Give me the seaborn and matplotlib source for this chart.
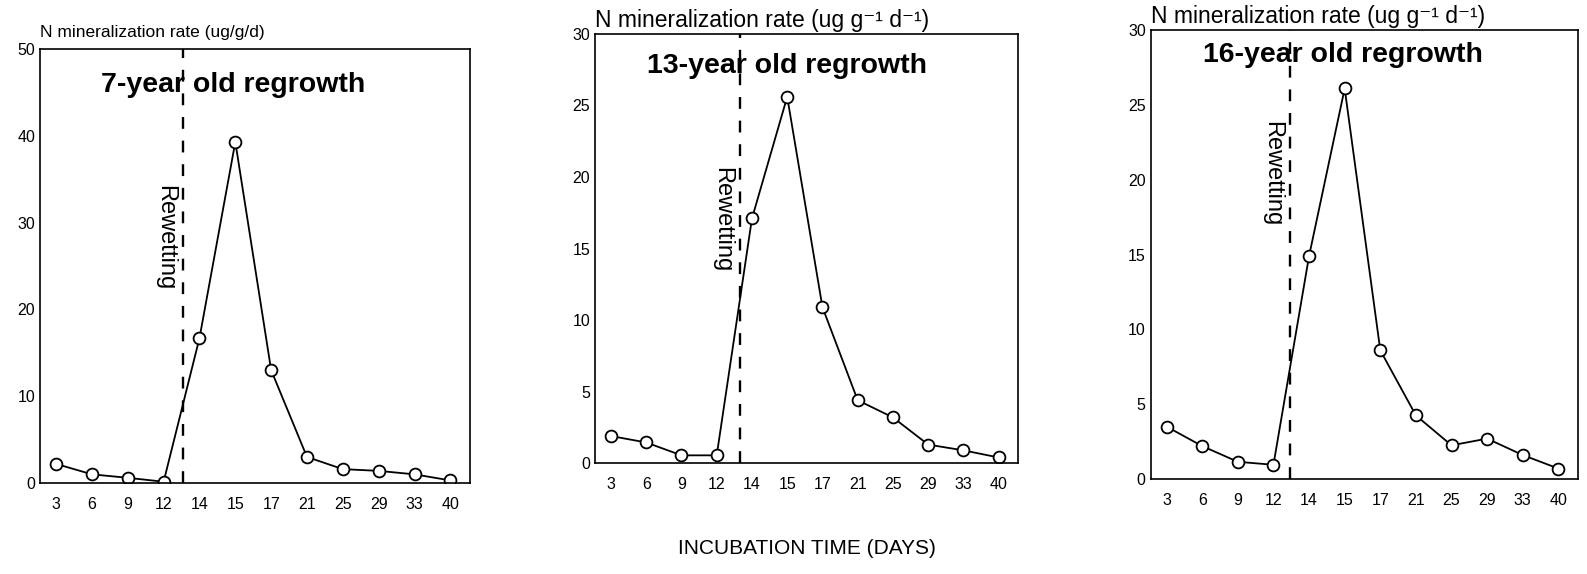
import matplotlib
matplotlib.use("Agg")
import matplotlib.pyplot as plt
import seaborn as sns

days = ["3", "6", "9", "12", "14", "15", "17", "21", "25", "29", "33", "40"]
rate_7yr = [2.2, 1.0, 0.6, 0.15, 16.7, 39.3, 13.0, 3.0, 1.6, 1.4, 1.0, 0.3]
rate_13yr = [1.9, 1.45, 0.55, 0.55, 17.1, 25.6, 10.9, 4.4, 3.2, 1.3, 0.9, 0.4]
rate_16yr = [3.5, 2.2, 1.15, 0.95, 14.9, 26.1, 8.6, 4.25, 2.25, 2.7, 1.6, 0.7]
titles = ["7-year old regrowth", "13-year old regrowth", "16-year old regrowth"]
ylims = [50, 30, 30]
yticks = [[0, 10, 20, 30, 40, 50], [0, 5, 10, 15, 20, 25, 30], [0, 5, 10, 15, 20, 25, 30]]
ylabels = ["N mineralization rate (ug/g/d)",
           "N mineralization rate (ug g\u207b\u00b9 d\u207b\u00b9)",
           "N mineralization rate (ug g\u207b\u00b9 d\u207b\u00b9)"]
rewet_pos = [3.55, 3.65, 3.47]
rewet_text_y = [28.3, 17.0, 20.4]
title_pos = [(0.45, 0.917), (0.453, 0.926), (0.45, 0.944)]

sns.set_style("white")
plt.rcParams['font.family'] = ['Liberation Sans', 'DejaVu Sans']
plt.rcParams['text.color'] = 'black'

fig = plt.figure(figsize=(15.87, 5.74), dpi=100)
rects = [(0.0252, 0.1585, 0.271, 0.756),
         (0.375, 0.193, 0.2665, 0.748),
         (0.725, 0.1655, 0.2693, 0.782)]
series = [rate_7yr, rate_13yr, rate_16yr]

for i in range(3):
    ax = fig.add_axes(rects[i])
    sns.lineplot(x=days, y=series[i], ax=ax, color="black", linewidth=1.3,
                 marker="o", markersize=8.5, markerfacecolor="white",
                 markeredgecolor="black", markeredgewidth=1.3, sort=False)
    ax.set_xlim(-0.45, 11.55)
    ax.set_ylim(0, ylims[i])
    ax.set_yticks(yticks[i])
    ax.tick_params(direction="in", length=4, width=1, labelsize=11.5,
                   colors="black", labelcolor="black")
    ax.tick_params(axis="x", pad=10)
    for s in ax.spines.values():
        s.set_color("black")
        s.set_linewidth(1.2)
    ax.axvline(rewet_pos[i], color="black", linestyle=(0, (5, 5)), linewidth=1.7)
    ax.text(rewet_pos[i] - 0.5, rewet_text_y[i], "Rewetting", rotation=-90,
            ha="center", va="center", fontsize=17, color="black")
    ax.text(title_pos[i][0], title_pos[i][1], titles[i], transform=ax.transAxes,
            ha="center", va="center", fontsize=20.5, fontweight="bold",
            color="black")
    ax.set_xlabel("")
    ax.set_ylabel("")
    if i == 0:
        ax.text(0.0, 1.02, ylabels[i], transform=ax.transAxes, ha="left",
                va="bottom", fontsize=12.5, color="black")
    else:
        ax.text(0.0, 1.004, ylabels[i], transform=ax.transAxes, ha="left",
                va="bottom", fontsize=16.5, color="black")
    if i == 1:
        ax.set_xlabel("INCUBATION TIME (DAYS)", fontsize=15, labelpad=34,
                      color="black")

fig.savefig("out.png", dpi=100, facecolor="white")
